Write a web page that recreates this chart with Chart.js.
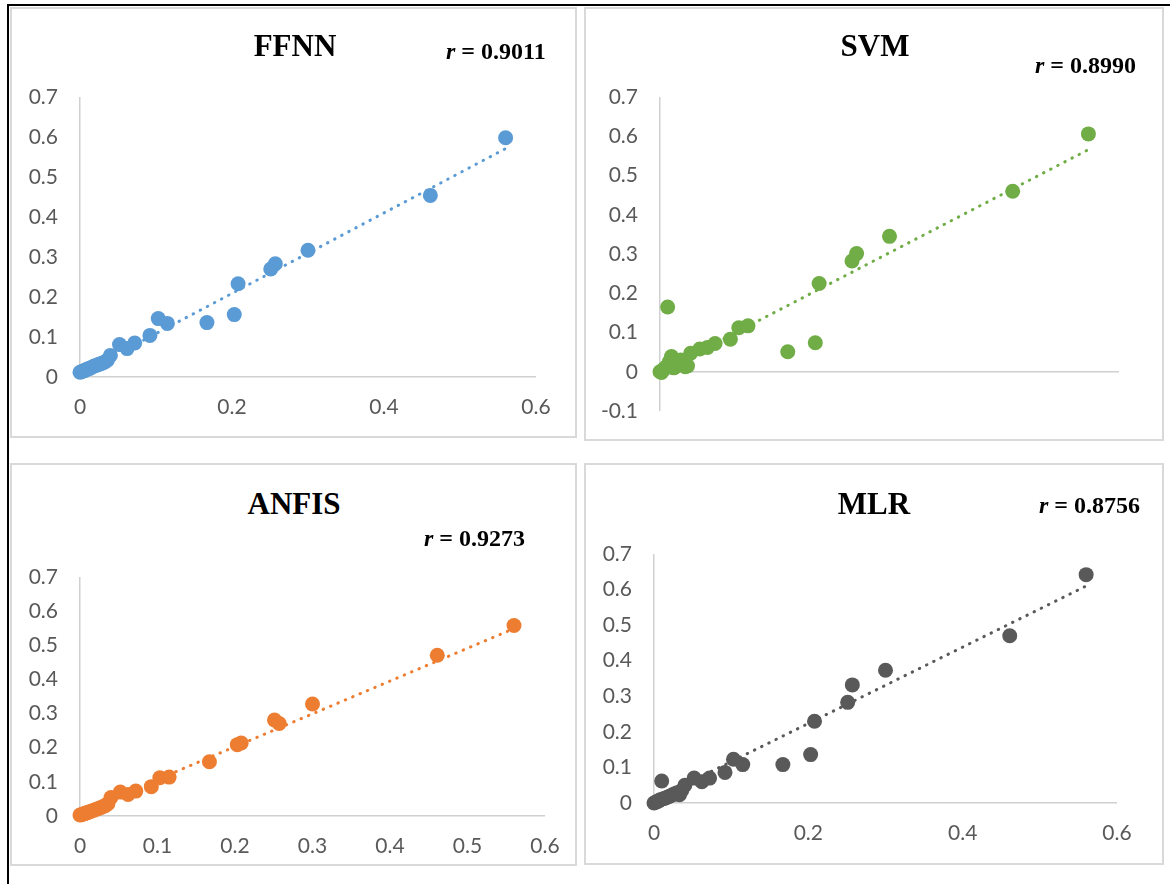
<!DOCTYPE html>
<html>
<head>
<meta charset="utf-8">
<script src="https://cdn.jsdelivr.net/npm/chart.js@4.4.0/dist/chart.umd.min.js"></script>
<style>
body { margin:0; width:1170px; height:884px; background:#fff; position:relative; overflow:hidden; }
.frame-top { position:absolute; left:7px; top:4px; width:1163px; height:2px; background:#000; }
.frame-left { position:absolute; left:7px; top:4px; width:2px; height:880px; background:#000; }
.panel { position:absolute; box-sizing:border-box; border:2px solid #d9d9d9; }
.box { position:absolute; }
.title { position:absolute; font-family:"Liberation Serif", serif; font-weight:bold; font-size:31px; line-height:31px; white-space:nowrap; transform:translateX(-50%); color:#000; }
.rval { position:absolute; font-family:"Liberation Serif", serif; font-weight:bold; font-size:24px; line-height:24px; white-space:nowrap; color:#000; }
</style>
</head>
<body>
<div class="frame-top"></div>
<div class="frame-left"></div>

<div class="panel" style="left:10px; top:7px; width:567px; height:431px;"></div>
<div class="panel" style="left:584px; top:7px; width:580px; height:434px;"></div>
<div class="panel" style="left:10px; top:463px; width:567px; height:403px;"></div>
<div class="panel" style="left:584px; top:463px; width:580px; height:402px;"></div>

<!-- canvas boxes: plot area = box minus 70 left, 36 top, 36 right, 50 bottom -->
<div class="box" style="left:10px; top:61px; width:562px; height:366px;"><canvas id="c-ffnn" width="562" height="366"></canvas></div>
<div class="box" style="left:590px; top:61px; width:565px; height:400px;"><canvas id="c-svm" width="565" height="400"></canvas></div>
<div class="box" style="left:10px; top:541px; width:571px; height:325px;"><canvas id="c-anfis" width="571" height="325"></canvas></div>
<div class="box" style="left:584px; top:518px; width:569px; height:335px;"><canvas id="c-mlr" width="569" height="335"></canvas></div>

<div class="title" style="left:295px; top:30px;">FFNN</div>
<div class="title" style="left:875px; top:30px;">SVM</div>
<div class="title" style="left:294px; top:488px;">ANFIS</div>
<div class="title" style="left:874px; top:488px;">MLR</div>

<div class="rval" style="left:446px; top:39px;"><i>r</i> = 0.9011</div>
<div class="rval" style="left:1035px; top:53px;"><i>r</i> = 0.8990</div>
<div class="rval" style="left:424px; top:526px;"><i>r</i> = 0.9273</div>
<div class="rval" style="left:1039px; top:493px;"><i>r</i> = 0.8756</div>

<script>
// observed values, same x for every model
const observed = [0.000, 0.002, 0.004, 0.006, 0.008, 0.010, 0.012, 0.015, 0.018, 0.021,
                  0.024, 0.027, 0.030, 0.033, 0.036, 0.040, 0.052, 0.062, 0.072, 0.092,
                  0.103, 0.115, 0.167, 0.203, 0.208, 0.251, 0.257, 0.300, 0.461, 0.560];

// predicted values
const ffnnPred  = [0.012, 0.013, 0.015, 0.016, 0.018, 0.020, 0.021, 0.024, 0.027, 0.029,
                   0.031, 0.033, 0.035, 0.038, 0.042, 0.054, 0.081, 0.071, 0.085, 0.104,
                   0.146, 0.134, 0.136, 0.156, 0.233, 0.270, 0.283, 0.317, 0.454, 0.598];
const svmPred   = [0.000, -0.002, 0.004, 0.008, 0.012, 0.165, 0.025, 0.039, 0.010, 0.014,
                   0.028, 0.030, 0.026, 0.013, 0.015, 0.047, 0.058, 0.062, 0.072, 0.083,
                   0.112, 0.117, 0.051, 0.074, 0.225, 0.282, 0.301, 0.345, 0.460, 0.606];
const anfisPred = [0.003, 0.004, 0.006, 0.007, 0.009, 0.011, 0.012, 0.015, 0.017, 0.020,
                   0.022, 0.025, 0.028, 0.031, 0.036, 0.054, 0.070, 0.063, 0.073, 0.086,
                   0.112, 0.114, 0.159, 0.209, 0.214, 0.281, 0.271, 0.328, 0.471, 0.558];
const mlrPred   = [0.000, 0.002, 0.004, 0.006, 0.009, 0.062, 0.012, 0.014, 0.017, 0.020,
                   0.023, 0.026, 0.029, 0.023, 0.035, 0.050, 0.070, 0.060, 0.070, 0.086,
                   0.123, 0.108, 0.108, 0.136, 0.230, 0.283, 0.332, 0.373, 0.470, 0.642];

// linear trendlines (dotted), ends
const trendX     = [0, 0.56];
const ffnnTrend  = [0.008, 0.571];
const svmTrend   = [0.000, 0.566];
const anfisTrend = [0.011, 0.549];
const mlrTrend   = [0.009, 0.610];

const xTicks      = [0, 0.2, 0.4, 0.6];
const xTicksAnfis = [0, 0.1, 0.2, 0.3, 0.4, 0.5, 0.6];
const yTicks      = [0, 0.1, 0.2, 0.3, 0.4, 0.5, 0.6, 0.7];
const yTicksSvm   = [-0.1, 0, 0.1, 0.2, 0.3, 0.4, 0.5, 0.6, 0.7];

const axisColor = "#d0d0d0";
const tickFont = {family: "Lato", size: 21};

function pairs(xs, ys){
    return xs.map((x, i) => ({x: x, y: ys[i]}));
}

function zero_line(c){
    if (c.tick && Math.abs(c.tick.value) < 1e-9) return axisColor;
    return "rgba(0,0,0,0)";
}

function make_chart(id, pred, trend, color, xt, yt, xPad){
    const ctx = document.getElementById(id);
    return new Chart(ctx, {
        type: "scatter",
        data: {
            datasets: [
                {
                    data: pairs(observed, pred),
                    backgroundColor: color,
                    pointRadius: 7.5,
                    pointBorderWidth: 0,
                    pointHoverRadius: 7.5,
                    clip: false,
                    order: 1
                },
                {
                    data: pairs(trendX, trend),
                    showLine: true,
                    borderColor: color,
                    borderWidth: 3,
                    borderDash: [0.5, 7.5],
                    borderCapStyle: "round",
                    pointRadius: 0,
                    fill: false,
                    clip: false,
                    order: 2
                }
            ]
        },
        options: {
            responsive: false,
            animation: false,
            events: [],
            layout: { autoPadding: false, padding: {top: 36, right: 36, left: 0, bottom: 0} },
            plugins: { legend: {display: false}, tooltip: {enabled: false}, title: {display: false} },
            scales: {
                x: {
                    type: "linear",
                    position: "bottom",
                    min: xt[0],
                    max: xt[xt.length - 1],
                    afterBuildTicks: s => { s.ticks = xt.map(v => ({value: v})); },
                    afterFit: s => { s.height = 50; },
                    border: {display: false},
                    grid: {color: zero_line, lineWidth: 1.5, drawTicks: false},
                    ticks: {
                        padding: xPad,
                        font: tickFont,
                        color: "#595959",
                        maxRotation: 0,
                        autoSkip: false,
                        callback: v => String(v)
                    }
                },
                y: {
                    type: "linear",
                    position: "left",
                    min: yt[0],
                    max: yt[yt.length - 1],
                    afterBuildTicks: s => { s.ticks = yt.map(v => ({value: v})); },
                    afterFit: s => { s.width = 70; },
                    border: {display: false},
                    grid: {color: zero_line, lineWidth: 1.5, drawTicks: false},
                    ticks: {
                        padding: 22,
                        font: tickFont,
                        color: "#595959",
                        autoSkip: false,
                        callback: v => String(v)
                    }
                }
            }
        }
    });
}

make_chart("c-ffnn",  ffnnPred,  ffnnTrend,  "#5b9bd5", xTicks,      yTicks,    18);
make_chart("c-svm",   svmPred,   svmTrend,   "#70ad47", xTicks,      yTicksSvm, -24);
make_chart("c-anfis", anfisPred, anfisTrend, "#ed7d31", xTicksAnfis, yTicks,    18);
make_chart("c-mlr",   mlrPred,   mlrTrend,   "#595959", xTicks,      yTicks,    18);
</script>
</body>
</html>
